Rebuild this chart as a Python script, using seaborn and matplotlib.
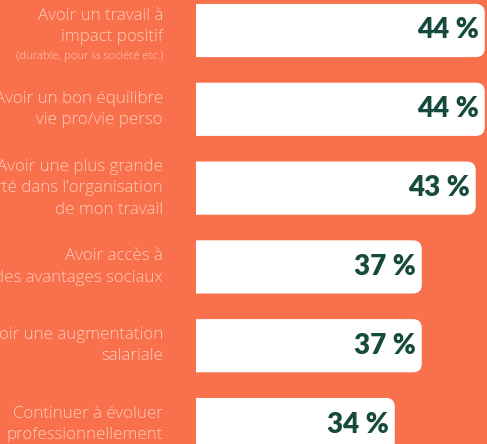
import matplotlib
matplotlib.use("Agg")
import matplotlib.pyplot as plt
from matplotlib.patches import FancyBboxPatch
import matplotlib.transforms as mtransforms
import seaborn as sns
import pandas as pd

categories = [
    "Avoir un travail à\nimpact positif",
    "Avoir un bon équilibre\nvie pro/vie perso",
    "Avoir une plus grande\nliberté dans l’organisation\nde mon travail",
    "Avoir accès à\ndes avantages sociaux",
    "Avoir une augmentation\nsalariale",
    "Continuer à évoluer\nprofessionnellement",
]
subtitles = ["(durable, pour la société etc.)", "", "", "", "", ""]
values = [44, 44, 43, 37, 37, 34]
value_labels = [f"{v} %" for v in values]

BG = "#F9714C"
LABEL_C = "#FDCBBA"
VAL_C = "#154A3C"
LABEL_FONT = "Open Sans"

W, H = 487, 444
fig = plt.figure(figsize=(W / 100, H / 100), dpi=100, facecolor=BG)
ax_left, ax_w = 196, 291
ax = fig.add_axes([ax_left / W, 0, ax_w / W, 1])
ax.set_facecolor(BG)

df = pd.DataFrame({"cat": categories, "val": values})
sns.barplot(data=df, x="val", y="cat", orient="h", color="white",
            width=0.675, saturation=1, ax=ax, edgecolor="none")

xmin, xmax = 11.9, 44.25
ymin, ymax = 5.247, -0.387
ax.set_xlim(xmin, xmax)
ax.set_ylim(ymin, ymax)

px_x = ax_w / (xmax - xmin)
px_y = H / abs(ymin - ymax)
r_px = 9
rx = r_px / px_x
ry = r_px / px_y

for p in list(ax.patches):
    x0, y0, w, h = p.get_x(), p.get_y(), p.get_width(), p.get_height()
    fb = FancyBboxPatch((x0, y0), w, h,
                        boxstyle=f"round,pad=0,rounding_size={rx}",
                        mutation_aspect=ry / rx,
                        facecolor="white", edgecolor="none")
    p.remove()
    ax.add_patch(fb)

for i, (v, lab) in enumerate(zip(values, value_labels)):
    ax.annotate(lab, xy=(v, i), xytext=(-4.5, 0), textcoords="offset points",
                ha="right", va="center", color=VAL_C, fontsize=20,
                fontfamily="Lato", fontweight="heavy")

ax.set_yticks([])
ax.set_xticks([])
ax.set_xlabel("")
ax.set_ylabel("")
for s in ax.spines.values():
    s.set_visible(False)

label_x = 163 / W
for i, (cat, sub) in enumerate(zip(categories, subtitles)):
    trans = mtransforms.blended_transform_factory(fig.transFigure, ax.transData)
    if sub:
        off = mtransforms.ScaledTranslation(0, 4 / 100, fig.dpi_scale_trans)
        fig.text(label_x, i, cat, transform=trans + off, ha="right", va="center",
                 color=LABEL_C, fontsize=12.2, fontfamily=LABEL_FONT, fontweight="light",
                 linespacing=1.45)
        off2 = mtransforms.ScaledTranslation(0, -26.5 / 100, fig.dpi_scale_trans)
        fig.text(label_x, i, sub, transform=trans + off2, ha="right", va="center",
                 color=LABEL_C, fontsize=8.2, fontfamily=LABEL_FONT, fontweight="light")
    else:
        fig.text(label_x, i, cat, transform=trans, ha="right", va="center",
                 color=LABEL_C, fontsize=12.2, fontfamily=LABEL_FONT, fontweight="light",
                 linespacing=1.45)

fig.savefig("out.png", dpi=100, facecolor=BG)
